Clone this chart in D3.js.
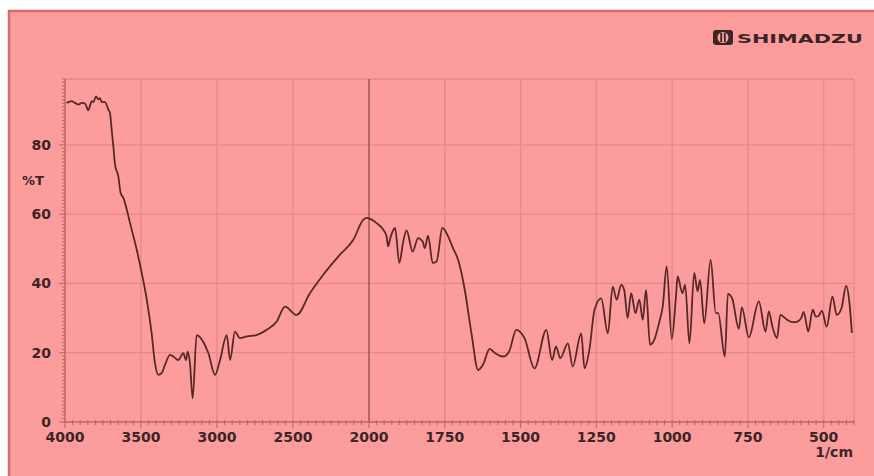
<!DOCTYPE html>
<html>
<head>
<meta charset="utf-8">
<script src="https://cdn.jsdelivr.net/npm/d3@7"></script>
<style>
  html, body { margin: 0; padding: 0; background: #ffffff; }
  svg { display: block; }
  text { font-family: "DejaVu Sans", sans-serif; font-weight: bold; fill: #3a2626; }
</style>
</head>
<body>
<svg id="chart" width="874" height="476"></svg>
<script>
// IR spectrum: wavenumber (1/cm) and transmittance (%T)
const wavenumber = [
  3989, 3956, 3934, 3912, 3890, 3868, 3847, 3824, 3814, 3796, 3781, 3770, 3759, 3737, 3715, 3704,
  3693, 3682, 3671, 3649, 3634, 3616, 3572, 3528, 3495, 3462, 3430, 3408, 3386, 3364, 3342, 3309,
  3287, 3255, 3222, 3204, 3193, 3178, 3160, 3134, 3090, 3057, 3013, 2980, 2936, 2914, 2882, 2849,
  2803, 2739, 2673, 2607, 2553, 2476, 2388, 2301, 2191, 2103, 2037, 2015,
  1991, 1975, 1953, 1942, 1937, 1931, 1922, 1914, 1900, 1887, 1876, 1856, 1838, 1823, 1816, 1805,
  1790, 1777, 1758, 1734, 1723, 1706, 1684, 1662, 1640, 1624, 1602, 1585, 1558, 1538, 1514, 1487,
  1454, 1415, 1396, 1383, 1369, 1344, 1328, 1300, 1289, 1273, 1256, 1234, 1212, 1196, 1183, 1168,
  1158, 1147, 1135, 1121, 1108, 1097, 1086, 1073, 1059, 1042, 1031, 1018, 1001, 987, 982, 966,
  957, 943, 927, 916, 908, 894, 873, 856, 848, 826, 816, 802, 780, 770, 747, 714,
  692, 681, 668, 654, 643, 625, 610, 593, 574, 566, 551, 536, 526, 517, 506, 490,
  471, 457, 441, 426, 415, 407
];
const transmittance = [
  92.1, 92.6, 92.1, 91.6, 92.1, 91.9, 90.0, 92.6, 92.3, 94.0, 93.1, 93.5, 92.3, 92.3, 90.2, 89.2,
  84.4, 79.6, 74.3, 70.9, 66.1, 64.7, 57.4, 49.7, 43.0, 35.3, 25.6, 17.0, 13.6, 14.1, 16.5, 19.4,
  18.9, 17.9, 19.9, 17.9, 20.3, 17.0, 6.8, 25.1, 23.1, 19.9, 13.6, 17.9, 25.1, 17.9, 26.1, 24.2,
  24.7, 25.1, 26.6, 29.0, 33.3, 30.9, 37.2, 42.5, 48.3, 52.6, 58.4, 58.9,
  58.4, 57.4, 55.5, 53.6, 50.7, 52.6, 55.0, 56.0, 45.9, 52.1, 55.3, 49.2, 53.1, 52.1, 50.2, 53.8,
  45.9, 46.3, 56.0, 52.6, 50.2, 46.8, 38.1, 25.6, 15.0, 16.5, 21.1, 19.9, 18.9, 20.3, 26.6, 24.2,
  15.5, 26.6, 17.9, 21.8, 18.4, 22.7, 16.0, 25.6, 15.5, 20.8, 32.4, 35.7, 25.6, 39.1, 35.3, 39.6,
  38.1, 30.0, 37.2, 31.4, 35.3, 29.5, 38.1, 22.3, 23.7, 29.0, 33.3, 44.9, 24.0, 36.7, 42.0, 37.2,
  39.6, 22.7, 43.0, 37.7, 41.0, 28.5, 46.8, 31.4, 31.4, 18.9, 37.0, 35.7, 26.9, 33.1, 24.4, 34.8,
  26.1, 31.9, 27.1, 24.2, 30.9, 29.8, 29.0, 28.8, 30.0, 31.8, 26.1, 32.4, 30.4, 30.6, 32.1, 27.5,
  36.2, 30.9, 32.9, 39.3, 34.4, 25.7
];

// Axis labels
const xTickValues = [4000, 3500, 3000, 2500, 2000, 1750, 1500, 1250, 1000, 750, 500];
const yTickValues = [0, 20, 40, 60, 80];
const xUnitLabel = "1/cm";
const yUnitLabel = "%T";
const brandName = "SHIMADZU";

const svg = d3.select("#chart");

const plotLeft = 65, plotRight = 854, plotTop = 79, plotBottom = 422;

// Two-range wavenumber axis: the scale doubles below 2000 1/cm
const x = d3.scaleLinear().domain([4000, 2000, 400]).range([plotLeft, 369, plotRight]);
const y = d3.scaleLinear().domain([0, 99]).range([plotBottom, plotTop]);

// Page background and frame
svg.append("rect").attr("x", 8).attr("y", 10).attr("width", 866).attr("height", 466)
  .attr("fill", "#fd9c9c");
svg.append("line").attr("x1", 8).attr("x2", 874).attr("y1", 11).attr("y2", 11)
  .attr("stroke", "#d36d6b").attr("stroke-width", 2.5);
svg.append("line").attr("x1", 9).attr("x2", 9).attr("y1", 10).attr("y2", 476)
  .attr("stroke", "#d36d6b").attr("stroke-width", 2.5);

const grid = svg.append("g").attr("stroke", "#e88888").attr("stroke-width", 1.3);

// Horizontal grid lines and the top of the plot frame
grid.selectAll("line.h").data(yTickValues.filter(d => d > 0).concat([99])).join("line")
  .attr("x1", plotLeft).attr("x2", plotRight)
  .attr("y1", d => y(d)).attr("y2", d => y(d));

// Vertical grid lines and the right edge of the plot frame
grid.selectAll("line.v").data(xTickValues.filter(d => d !== 4000 && d !== 2000).concat([400])).join("line")
  .attr("x1", d => x(d)).attr("x2", d => x(d))
  .attr("y1", plotTop).attr("y2", plotBottom);

// Range-change line at 2000 1/cm
svg.append("line")
  .attr("x1", x(2000)).attr("x2", x(2000)).attr("y1", plotTop).attr("y2", plotBottom)
  .attr("stroke", "#9c5555").attr("stroke-width", 1.5);

// Minor ticks: every 1 %T on the left, every 50 / 25 1/cm along the bottom
const axisColor = "#b86464";
const yMinor = d3.range(0, 100, 1);
svg.append("g").selectAll("line").data(yMinor).join("line")
  .attr("x1", d => plotLeft - (d % 20 === 0 ? 6 : 3)).attr("x2", plotLeft)
  .attr("y1", d => y(d)).attr("y2", d => y(d))
  .attr("stroke", axisColor).attr("stroke-width", 1);
const xMinor = d3.range(4000, 2000, -50).concat(d3.range(2000, 399, -25));
svg.append("g").selectAll("line").data(xMinor).join("line")
  .attr("x1", d => x(d)).attr("x2", d => x(d))
  .attr("y1", plotBottom - 2).attr("y2", d => plotBottom + (xTickValues.includes(d) ? 6 : 3))
  .attr("stroke", axisColor).attr("stroke-width", 1);

// Axis lines
svg.append("line").attr("x1", plotLeft).attr("x2", plotLeft).attr("y1", plotTop).attr("y2", plotBottom)
  .attr("stroke", axisColor).attr("stroke-width", 1.4);
svg.append("line").attr("x1", plotLeft).attr("x2", plotRight).attr("y1", plotBottom).attr("y2", plotBottom)
  .attr("stroke", axisColor).attr("stroke-width", 1.4);

// Tick labels
svg.append("g").selectAll("text").data(xTickValues).join("text")
  .attr("x", d => x(d)).attr("y", 442)
  .attr("text-anchor", "middle").attr("font-size", 14)
  .text(d => d);
svg.append("g").selectAll("text").data(yTickValues).join("text")
  .attr("x", 51).attr("y", d => y(d) + 5)
  .attr("text-anchor", "end").attr("font-size", 14)
  .text(d => d);

svg.append("text").attr("x", 853).attr("y", 457).attr("text-anchor", "end")
  .attr("font-size", 14).text(xUnitLabel);
svg.append("text").attr("x", 22).attr("y", 185)
  .attr("font-size", 13).text(yUnitLabel);

// Spectrum trace
const line = d3.line()
  .x((d, i) => x(wavenumber[i]))
  .y(d => y(d))
  .curve(d3.curveMonotoneX);
svg.append("path").datum(transmittance)
  .attr("d", line)
  .attr("fill", "none")
  .attr("stroke", "#562828")
  .attr("stroke-width", 1.8)
  .attr("stroke-linejoin", "round");

// Brand mark
const logo = svg.append("g").attr("transform", "translate(713,30)");
logo.append("rect").attr("width", 20).attr("height", 15).attr("rx", 3)
  .attr("fill", "#3a2626");
logo.append("circle").attr("cx", 10).attr("cy", 7.5).attr("r", 5.5)
  .attr("fill", "#fd9c9c");
logo.append("rect").attr("x", 7.3).attr("y", 3).attr("width", 1.8).attr("height", 9)
  .attr("fill", "#3a2626");
logo.append("rect").attr("x", 10.9).attr("y", 3).attr("width", 1.8).attr("height", 9)
  .attr("fill", "#3a2626");
svg.append("text").attr("x", 737).attr("y", 43)
  .attr("font-size", 12.5)
  .attr("textLength", 126).attr("lengthAdjust", "spacingAndGlyphs")
  .text(brandName);
</script>
</body>
</html>
